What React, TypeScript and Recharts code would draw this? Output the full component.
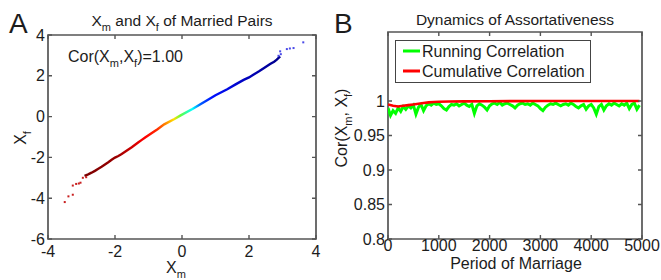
import { ComposedChart, LineChart, Line, Scatter, XAxis, YAxis, ReferenceArea } from "recharts";

const FONT = '"Liberation Sans", Arial, Helvetica, sans-serif';
const AXIS = "#555555";
const INK = "#1c1c1c";

// Panel A: Xm vs Xf of married pairs (dense middle of the cloud)
const pairXm = [
  -2.91, -2.8, -2.7, -2.6, -2.51, -2.4, -2.3, -2.2, -2.1, -2.0, -1.9, -1.8, -1.7,
  -1.6, -1.5, -1.4, -1.3, -1.2, -1.1, -1.0, -0.9, -0.73, -0.53, -0.24, -0.04, 0.31,
  0.75, 1.0, 1.35, 1.6, 1.84, 2.0, 2.14, 2.3, 2.45, 2.63, 2.75, 2.83, 2.93,
];
const pairXf = [
  -2.9, -2.83, -2.75, -2.66, -2.57, -2.46, -2.35, -2.24, -2.12, -2.01, -1.93, -1.83,
  -1.72, -1.61, -1.5, -1.38, -1.26, -1.14, -1.02, -0.91, -0.8, -0.62, -0.38, -0.13,
  0.06, 0.37, 0.8, 1.05, 1.34, 1.58, 1.8, 1.92, 2.06, 2.22, 2.38, 2.58, 2.69, 2.79, 2.95,
];
// sparse tails
const lowTailXm = [-3.5, -3.39, -3.26, -3.26, -3.16, -3.08, -3.03, -2.96, -2.86];
const lowTailXf = [-4.19, -3.91, -3.83, -3.38, -3.3, -3.28, -3.24, -3.0, -2.97];
const highTailXm = [2.88, 2.93, 2.95, 3.13, 3.22, 3.33, 3.62];
const highTailXf = [2.98, 3.2, 3.06, 3.31, 3.34, 3.36, 3.64];

const ticksAX = [-4, -2, 0, 2, 4];
const ticksAY = [-6, -4, -2, 0, 2, 4];

// Panel B: dynamics of assortativeness
const runPeriods = [
  0, 50, 100, 150, 200, 250, 300, 350, 400, 450, 500, 550, 600, 650, 700, 750, 800, 850,
  900, 950, 1000, 1050, 1100, 1150, 1200, 1250, 1300, 1350, 1400, 1450, 1500, 1550, 1600,
  1650, 1700, 1750, 1800, 1850, 1900, 1950, 2000, 2050, 2100, 2150, 2200, 2250, 2300, 2350,
  2400, 2450, 2500, 2550, 2600, 2650, 2700, 2750, 2800, 2850, 2900, 2950, 3000, 3050, 3100,
  3150, 3200, 3250, 3300, 3350, 3400, 3450, 3500, 3550, 3600, 3650, 3700, 3750, 3800, 3850,
  3900, 3950, 4000, 4050, 4100, 4150, 4200, 4250, 4300, 4350, 4400, 4450, 4500, 4550, 4600,
  4650, 4700, 4750, 4800, 4850, 4900, 4950,
];
const runningCor = [
  0.99, 0.979, 0.986, 0.982, 0.99, 0.985, 0.992, 0.988, 0.993, 0.99, 0.994, 0.981, 0.991,
  0.995, 0.986, 0.993, 0.996, 0.994, 0.997, 0.995, 0.996, 0.993, 0.989, 0.987, 0.992, 0.995,
  0.994, 0.996, 0.993, 0.995, 0.997, 0.994, 0.992, 0.995, 0.982, 0.993, 0.996, 0.994, 0.991,
  0.987, 0.993, 0.996, 0.997, 0.995, 0.998, 0.994, 0.996, 0.997, 0.995, 0.993, 0.99, 0.994,
  0.996, 0.997, 0.995, 0.996, 0.994, 0.997, 0.995, 0.993, 0.989, 0.986, 0.991, 0.994, 0.996,
  0.995, 0.997, 0.995, 0.993, 0.995, 0.996, 0.994, 0.997, 0.995, 0.992, 0.99, 0.993, 0.995,
  0.988, 0.993, 0.995, 0.99, 0.981, 0.992, 0.995, 0.987, 0.993, 0.996, 0.994, 0.997, 0.995,
  0.993, 0.996, 0.994, 0.997, 0.989, 0.995, 0.997, 0.988, 0.994,
];
const cumPeriods = [0, 100, 200, 300, 400, 500, 600, 700, 800, 900, 1000, 1200, 1500, 2000, 2500, 3000, 3500, 4000, 4500, 4950];
const cumulativeCor = [
  0.995, 0.993, 0.992, 0.993, 0.994, 0.995, 0.996, 0.997, 0.998, 0.9985, 0.999, 0.9993,
  0.9995, 0.9997, 0.9998, 0.9999, 0.9999, 0.9999, 0.9999, 0.9999,
];

const ticksBX = [0, 1000, 2000, 3000, 4000, 5000];
const ticksBY = [0.8, 0.85, 0.9, 0.95, 1];

const pairData = pairXm.map((x, i) => ({ x, y: pairXf[i] }));
const lowTail = lowTailXm.map((x, i) => ({ x, y: lowTailXf[i] }));
const highTail = highTailXm.map((x, i) => ({ x, y: highTailXf[i] }));
const runningData = runPeriods.map((period, i) => ({ period, value: runningCor[i] }));
const cumulativeData = cumPeriods.map((period, i) => ({ period, value: cumulativeCor[i] }));

// plot boxes (pixels inside each chart)
const A_BOX = { left: 48, right: 316, top: 35, bottom: 239 };
const B_BOX = { left: 58, right: 312, top: 32, bottom: 239 };
const TICK = 4;

// x tick: label below plus inward marks at bottom and top edge
const xTick = (box: typeof A_BOX) => (p: any) => (
  <g>
    <path d={`M${p.x},${box.bottom}v${-TICK}M${p.x},${box.top}v${TICK}`} stroke={AXIS} strokeWidth={1.4} fill="none" />
    <text x={p.x} y={p.y} dy="0.71em" textAnchor="middle" fontSize={16} fill={INK} fontFamily={FONT}>
      {p.payload.value}
    </text>
  </g>
);

// y tick: label left plus inward marks at left and right edge
const yTick = (box: typeof A_BOX) => (p: any) => (
  <g>
    <path d={`M${box.left},${p.y}h${TICK}M${box.right},${p.y}h${-TICK}`} stroke={AXIS} strokeWidth={1.4} fill="none" />
    <text x={p.x} y={p.y} dy="0.355em" textAnchor="end" fontSize={16} fill={INK} fontFamily={FONT}>
      {p.payload.value}
    </text>
  </g>
);

const dot = (color: string) => (p: any) => (
  <rect x={p.cx - 1} y={p.cy - 1} width={2} height={2} fill={color} />
);

function PanelA() {
  return (
    <ComposedChart width={330} height={280} margin={{ top: A_BOX.top, right: 330 - A_BOX.right, bottom: 0, left: 0 }}>
      <defs>
        <linearGradient id="jetRev" x1="0" y1="0" x2="1" y2="0">
          <stop offset="0" stopColor="#7a0000" />
          <stop offset="0.16" stopColor="#990000" />
          <stop offset="0.24" stopColor="#cc0000" />
          <stop offset="0.31" stopColor="#ff0000" />
          <stop offset="0.37" stopColor="#ff2a00" />
          <stop offset="0.41" stopColor="#ff8000" />
          <stop offset="0.457" stopColor="#ffe000" />
          <stop offset="0.491" stopColor="#60ff40" />
          <stop offset="0.551" stopColor="#00ffff" />
          <stop offset="0.592" stopColor="#0060ff" />
          <stop offset="0.652" stopColor="#0010ff" />
          <stop offset="0.84" stopColor="#0000b8" />
          <stop offset="1" stopColor="#00008b" />
        </linearGradient>
      </defs>
      <XAxis type="number" dataKey="x" domain={[-4, 4]} ticks={ticksAX} allowDataOverflow height={280 - A_BOX.bottom} tickSize={0} tickMargin={7} tick={xTick(A_BOX)} tickLine={false} axisLine={false} />
      <YAxis type="number" dataKey="y" domain={[-6, 4]} ticks={ticksAY} allowDataOverflow width={A_BOX.left} tickSize={0} tickMargin={3} tick={yTick(A_BOX)} tickLine={false} axisLine={false} />
      <ReferenceArea x1={-4} x2={4} y1={-6} y2={4} fill="none" fillOpacity={0} stroke={AXIS} strokeWidth={1.7} strokeOpacity={1} ifOverflow="visible" />
      <Line data={pairData} dataKey="y" type="linear" stroke="url(#jetRev)" strokeWidth={2.4} dot={false} isAnimationActive={false} />
      <Scatter data={lowTail} dataKey="y" shape={dot("#c81e1e")} isAnimationActive={false} />
      <Scatter data={highTail} dataKey="y" shape={dot("#4a4ae8")} isAnimationActive={false} />
    </ComposedChart>
  );
}

function PanelB() {
  return (
    <LineChart width={331} height={280} margin={{ top: B_BOX.top, right: 331 - B_BOX.right, bottom: 0, left: 0 }}>
      <XAxis type="number" dataKey="period" domain={[0, 5000]} ticks={ticksBX} allowDataOverflow height={280 - B_BOX.bottom} tickSize={0} tickMargin={1} tick={xTick(B_BOX)} tickLine={false} axisLine={false} />
      <YAxis type="number" domain={[0.8, 1.1]} ticks={ticksBY} allowDataOverflow width={B_BOX.left} tickSize={0} tickMargin={3} tick={yTick(B_BOX)} tickLine={false} axisLine={false} />
      <ReferenceArea x1={0} x2={5000} y1={0.8} y2={1.1} fill="none" fillOpacity={0} stroke={AXIS} strokeWidth={1.7} strokeOpacity={1} ifOverflow="visible" />
      <Line data={runningData} dataKey="value" type="linear" stroke="#00ff00" strokeWidth={3} dot={false} isAnimationActive={false} />
      <Line data={cumulativeData} dataKey="value" type="linear" stroke="#ff0000" strokeWidth={2.6} dot={false} isAnimationActive={false} />
    </LineChart>
  );
}

export default function App() {
  return (
    <div style={{ position: "absolute", left: 0, top: 0, width: 661, height: 280, background: "#fff", fontFamily: FONT }}>
      <div style={{ position: "absolute", left: 0, top: 0 }}>
        <PanelA />
      </div>
      <div style={{ position: "absolute", left: 330, top: 0 }}>
        <PanelB />
      </div>
      <svg width={661} height={280} style={{ position: "absolute", left: 0, top: 0, pointerEvents: "none" }} fontFamily={FONT} fill={INK}>
        <text x={9} y={33} fontSize={28}>A</text>
        <text x={334} y={33} fontSize={28}>B</text>
        <text x={182} y={26} fontSize={15.5} textAnchor="middle">
          X<tspan dy={5} fontSize={11}>m</tspan>
          <tspan dy={-5}> and X</tspan>
          <tspan dy={5} fontSize={11}>f</tspan>
          <tspan dy={-5}> of Married Pairs</tspan>
        </text>
        <text x={515} y={24.5} fontSize={15.5} textAnchor="middle">Dynamics of Assortativeness</text>
        <text x={68} y={62} fontSize={16}>
          Cor(X<tspan dy={5} fontSize={11}>m</tspan>
          <tspan dy={-5}>,X</tspan>
          <tspan dy={5} fontSize={11}>f</tspan>
          <tspan dy={-5}>)=1.00</tspan>
        </text>
        <text transform="translate(25.5,138) rotate(-90)" fontSize={16} textAnchor="middle">
          X<tspan dy={5} fontSize={11}>f</tspan>
        </text>
        <text x={176} y={273} fontSize={16} textAnchor="middle">
          X<tspan dy={5} fontSize={11}>m</tspan>
        </text>
        <text transform="translate(346.5,128) rotate(-90)" fontSize={16} textAnchor="middle">
          Cor(X<tspan dy={5} fontSize={11}>m</tspan>
          <tspan dy={-5}>, X</tspan>
          <tspan dy={5} fontSize={11}>f</tspan>
          <tspan dy={-5}>)</tspan>
        </text>
        <text x={516} y={268.5} fontSize={16} textAnchor="middle">Period of Marriage</text>
        {/* legend of panel B */}
        <g transform="translate(395,40)">
          <rect x={0.5} y={0.5} width={195} height={42} fill="#fff" stroke="#444" />
          <line x1={8} x2={25} y1={11} y2={11} stroke="#00ff00" strokeWidth={3} />
          <text x={27} y={17} fontSize={16}>Running Correlation</text>
          <line x1={8} x2={25} y1={31} y2={31} stroke="#ff0000" strokeWidth={3} />
          <text x={27} y={37} fontSize={16}>Cumulative Correlation</text>
        </g>
      </svg>
    </div>
  );
}
